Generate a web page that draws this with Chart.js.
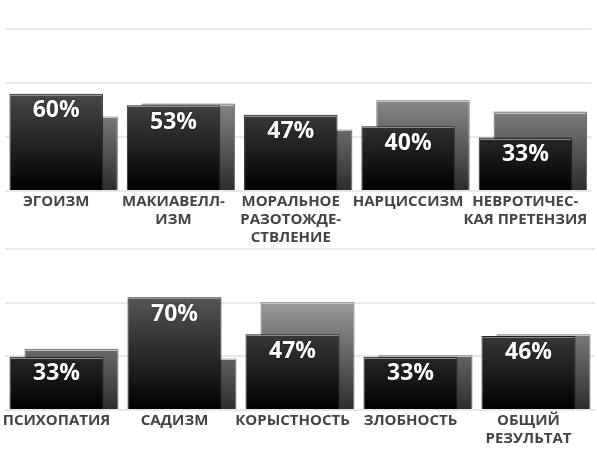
<!DOCTYPE html>
<html>
<head>
<meta charset="utf-8">
<script src="https://cdn.jsdelivr.net/npm/chart.js@4.4.1/dist/chart.umd.min.js"></script>
<style>
  html, body { margin: 0; padding: 0; background: #fff; }
  .box { position: relative; width: 597px; }
  #b1 { height: 249px; }
  #b2 { height: 224px; margin-top: -6px; }
</style>
</head>
<body>
<div class="box" id="b1"><canvas id="c1"></canvas></div>
<div class="box" id="b2"><canvas id="c2"></canvas></div>
<script>
// ---- data ----
const categoriesTop = [
  ['ЭГОИЗМ'],
  ['МАКИАВЕЛЛ-', 'ИЗМ'],
  ['МОРАЛЬНОЕ', 'РАЗОТОЖДЕ-', 'СТВЛЕНИЕ'],
  ['НАРЦИССИЗМ'],
  ['НЕВРОТИЧЕС-', 'КАЯ ПРЕТЕНЗИЯ']
];
const frontTop = [60, 53, 47, 40, 33];
const backTop = [46, 54, 38, 56, 49];

const categoriesBottom = [
  ['ПСИХОПАТИЯ'],
  ['САДИЗМ'],
  ['КОРЫСТНОСТЬ'],
  ['ЗЛОБНОСТЬ'],
  ['ОБЩИЙ', 'РЕЗУЛЬТАТ']
];
const frontBottom = [33, 70, 47, 33, 46];
const backBottom = [38, 32, 67, 34, 47];

const gridValues = [0, 100 / 3, 200 / 3, 100];
const axisMax = 100;

// ---- styles ----
function grad(stops) {
  return (ctx) => {
    const chart = ctx.chart;
    const a = chart.chartArea;
    if (!a) return stops[0][1];
    const g = chart.ctx.createLinearGradient(0, a.bottom, 0, a.top);
    stops.forEach(s => g.addColorStop(s[0], s[1]));
    return g;
  };
}
const frontFill = grad([[0, '#000000'], [0.35, '#2a2a2a'], [1, '#7a7a7a']]);
const backFill = grad([[0, '#2c2c2c'], [1, '#d0d0d0']]);

const highlightPlugin = {
  id: 'highlight',
  afterDatasetDraw(chart, args) {
    const meta = args.meta;
    const c = chart.ctx;
    c.save();
    c.strokeStyle = args.index === 0 ? 'rgba(150,150,150,0.9)' : 'rgba(200,200,200,0.9)';
    c.lineWidth = 1;
    meta.data.forEach(el => {
      const p = el.getProps(['x', 'y', 'width'], true);
      c.beginPath();
      c.moveTo(p.x - p.width / 2 + 1, Math.round(p.y) + 1.5);
      c.lineTo(p.x + p.width / 2 - 1, Math.round(p.y) + 1.5);
      c.stroke();
    });
    c.restore();
  }
};

const labelPlugin = {
  id: 'pctLabels',
  afterDatasetsDraw(chart) {
    const meta = chart.getDatasetMeta(0);
    const data = chart.data.datasets[0].data;
    const c = chart.ctx;
    c.save();
    c.font = 'bold 23px "Open Sans", sans-serif';
    c.textAlign = 'center';
    c.textBaseline = 'middle';
    c.fillStyle = '#ffffff';
    c.shadowColor = 'rgba(0,0,0,0.6)';
    c.shadowBlur = 2;
    meta.data.forEach((el, i) => {
      const p = el.getProps(['x', 'y'], true);
      c.fillText(data[i] + '%', p.x, p.y + 17);
    });
    c.restore();
  }
};

function makeChart(id, labels, front, back, padding) {
  return new Chart(document.getElementById(id), {
    type: 'bar',
    data: {
      labels: labels,
      datasets: [
        {
          data: front,
          backgroundColor: frontFill,
          borderColor: '#1e1e1e',
          borderWidth: 1,
          categoryPercentage: 30 / 118,
          barPercentage: 94 / 15
        },
        {
          data: back,
          backgroundColor: backFill,
          borderColor: '#6a6a6a',
          borderWidth: 1,
          categoryPercentage: 30 / 118,
          barPercentage: 94 / 15
        }
      ]
    },
    options: {
      responsive: true,
      maintainAspectRatio: false,
      animation: false,
      layout: { padding: padding },
      plugins: { legend: { display: false }, tooltip: { enabled: false } },
      scales: {
        x: {
          grid: { display: false, drawTicks: false },
          border: { display: false },
          ticks: {
            autoSkip: false,
            maxRotation: 0,
            minRotation: 0,
            padding: 2,
            labelOffset: -7.5,
            color: '#444444',
            font: { family: '"Open Sans", sans-serif', size: 15, weight: 'bold', lineHeight: 1.2 }
          }
        },
        y: {
          min: 0,
          max: axisMax,
          afterBuildTicks: (axis) => { axis.ticks = gridValues.map(v => ({ value: v })); },
          ticks: { display: false },
          grid: { color: '#e8e8e8', lineWidth: 2, drawTicks: false },
          border: { display: false }
        }
      }
    },
    plugins: [highlightPlugin, labelPlugin]
  });
}

makeChart('c1', categoriesTop, frontTop, backTop, { top: 29, left: 5, right: 2, bottom: 0 });
makeChart('c2', categoriesBottom, frontBottom, backBottom, { top: 6, left: 5, right: 2, bottom: 17 });
</script>
</body>
</html>
